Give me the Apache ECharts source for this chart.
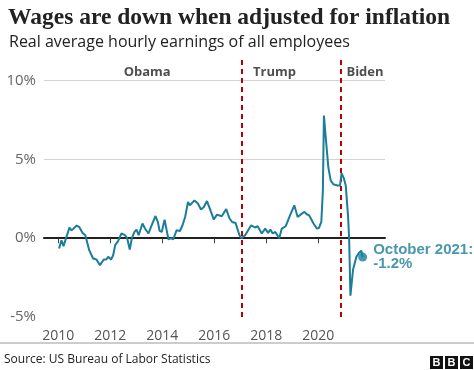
<!DOCTYPE html>
<html><head><meta charset="utf-8">
<script src="https://cdn.jsdelivr.net/npm/echarts@6/dist/echarts.min.js"></script>
<style>html,body{margin:0;padding:0;background:#fff}#c{width:474px;height:370px}</style>
</head><body><div id="c"></div>
<script>
// Real average hourly earnings, 12-month % change
const years = [2010.03,2010.12,2010.20,2010.25,2010.43,2010.50,2010.58,2010.71,2010.81,2010.93,2011.04,2011.19,2011.34,2011.47,2011.60,2011.66,2011.75,2011.85,2011.92,2012.03,2012.11,2012.19,2012.30,2012.43,2012.56,2012.65,2012.75,2012.83,2012.93,2013.01,2013.09,2013.24,2013.34,2013.47,2013.59,2013.74,2013.83,2013.90,2013.98,2014.09,2014.17,2014.24,2014.34,2014.42,2014.55,2014.68,2014.78,2014.88,2014.99,2015.06,2015.24,2015.37,2015.49,2015.60,2015.72,2015.83,2015.89,2015.98,2016.11,2016.29,2016.46,2016.59,2016.69,2016.82,2016.97,2017.04,2017.19,2017.42,2017.57,2017.67,2017.83,2017.96,2018.07,2018.16,2018.25,2018.35,2018.50,2018.60,2018.75,2018.92,2019.08,2019.21,2019.37,2019.47,2019.56,2019.65,2019.82,2019.95,2020.03,2020.12,2020.18,2020.22,2020.30,2020.39,2020.48,2020.58,2020.74,2020.84,2020.90,2020.99,2021.06,2021.15,2021.19,2021.24,2021.34,2021.47,2021.57,2021.66,2021.71];
const values = [-0.65,-0.13,-0.5,-0.5,0.68,0.5,0.6,0.8,0.7,0.34,0.19,-0.76,-1.29,-1.35,-1.71,-1.77,-1.35,-1.35,-1.18,-1.35,-1.08,-0.44,-0.19,0.3,0.19,0.0,-0.72,0.0,0.4,0.55,0.19,0.93,0.6,0.3,0.82,1.41,1.03,0.46,0.4,1.18,0.5,-0.08,0.0,-0.08,0.5,0.46,0.82,1.35,2.3,2.09,2.4,2.2,1.82,1.98,2.36,1.88,1.8,1.2,1.5,1.39,1.85,1.25,1.03,0.97,0.19,0.0,0.19,0.82,0.68,0.76,0.3,0.61,0.34,0.55,0.3,0.4,0.0,0.61,0.76,1.46,2.09,1.35,1.56,1.67,1.52,1.46,0.93,0.61,0.65,1.03,3.04,7.78,6.2,4.5,3.67,3.42,3.35,3.35,4.13,3.78,3.35,1.35,0.0,-3.65,-2.0,-1.18,-0.93,-0.8,-1.2];
const xTickYears = [2010,2012,2014,2016,2018,2020];
const yTicks = [-5,0,5,10];
const periodNames = ['Obama','Trump','Biden'];
const periodLabelX = [2013.42,2018.32,2021.8];
const periodLabelY = 10.54;
const presidencyStarts = [2017.05,2020.88];
const lastLabel = 'October 2021:\n-1.2%';

const TEAL = '#1a7d99';
const lineData = years.map((y,i)=>[y,values[i]]);
const last = lineData[lineData.length-1];

const chart = echarts.init(document.getElementById('c'), null, {renderer:'canvas'});
chart.setOption({
  animation:false,
  title:[
    {text:'Wages are down when adjusted for inflation', left:3, top:1,
     textStyle:{fontFamily:'Liberation Serif', fontWeight:'bold', fontSize:23.5, color:'#222'}},
    {text:'Real average hourly earnings of all employees', left:4, top:29,
     textStyle:{fontFamily:'Open Sans', fontWeight:'normal', fontSize:16, color:'#222'}}
  ],
  grid:{left:44, right:89, top:57, bottom:53, containLabel:false},
  xAxis:{type:'value', min:2009.45, max:2022.57,
    axisLine:{show:true, lineStyle:{color:'#222', width:2}},
    axisTick:{show:true, customValues:xTickYears, length:5, lineStyle:{color:'#444', width:1}},
    axisLabel:{customValues:xTickYears, color:'#555', fontSize:14, fontFamily:'Open Sans', margin:12, formatter:v=>String(v)},
    splitLine:{show:false}},
  yAxis:{type:'value', min:-5, max:11.5,
    axisLine:{show:false}, axisTick:{show:false},
    axisLabel:{customValues:yTicks, color:'#666', fontSize:15, fontFamily:'Open Sans', margin:8, formatter:v=>v+'%'},
    splitLine:{show:false}},
  series:[
    {type:'line', data:lineData, showSymbol:false, smooth:false,
     lineStyle:{color:TEAL, width:2}, z:5,
     markLine:{silent:true, symbol:['none','none'], label:{show:false},
       data:[
         {yAxis:5, lineStyle:{color:'#d4d4d4', width:1, type:'solid'}},
         {yAxis:10, lineStyle:{color:'#d4d4d4', width:1, type:'solid'}},
         {yAxis:0, lineStyle:{color:'#222', width:1.5, type:'solid'}},
         ...presidencyStarts.map(x=>({xAxis:x, lineStyle:{color:'#b80000', width:2, type:[5,4]}}))
       ]}},
    {type:'scatter', data:[last], symbolSize:9, itemStyle:{color:TEAL}, z:6,
     label:{show:true, position:'right', distance:6, formatter:()=>lastLabel,
       color:TEAL, fontWeight:'bold', fontSize:15, lineHeight:14, fontFamily:'Liberation Sans'}},
    {type:'scatter', data:periodNames.map((n,i)=>[periodLabelX[i], periodLabelY, n]), symbolSize:0,
     label:{show:true, position:'inside', formatter:p=>p.data[2], color:'#222', fontWeight:'bold', fontSize:13, fontFamily:'Open Sans'}}
  ],
  graphic:[
    {type:'line', shape:{x1:0,y1:343,x2:474,y2:343}, style:{stroke:'#999', lineWidth:1}},
    {type:'text', left:4, top:354, style:{text:'Source: US Bureau of Labor Statistics', fontSize:12, fontFamily:'Open Sans', fill:'#222'}},
    ...['B','B','C'].map((ch,i)=>({type:'group', left:430+i*15, top:356, children:[
      {type:'rect', shape:{x:0,y:0,width:13,height:13}, style:{fill:'#111'}},
      {type:'text', style:{text:ch, x:6.5, y:6.8, align:'center', verticalAlign:'middle', fontSize:11, fontWeight:'bold', fontFamily:'Liberation Sans', fill:'#fff'}}
    ]}))
  ]
});
</script></body></html>
